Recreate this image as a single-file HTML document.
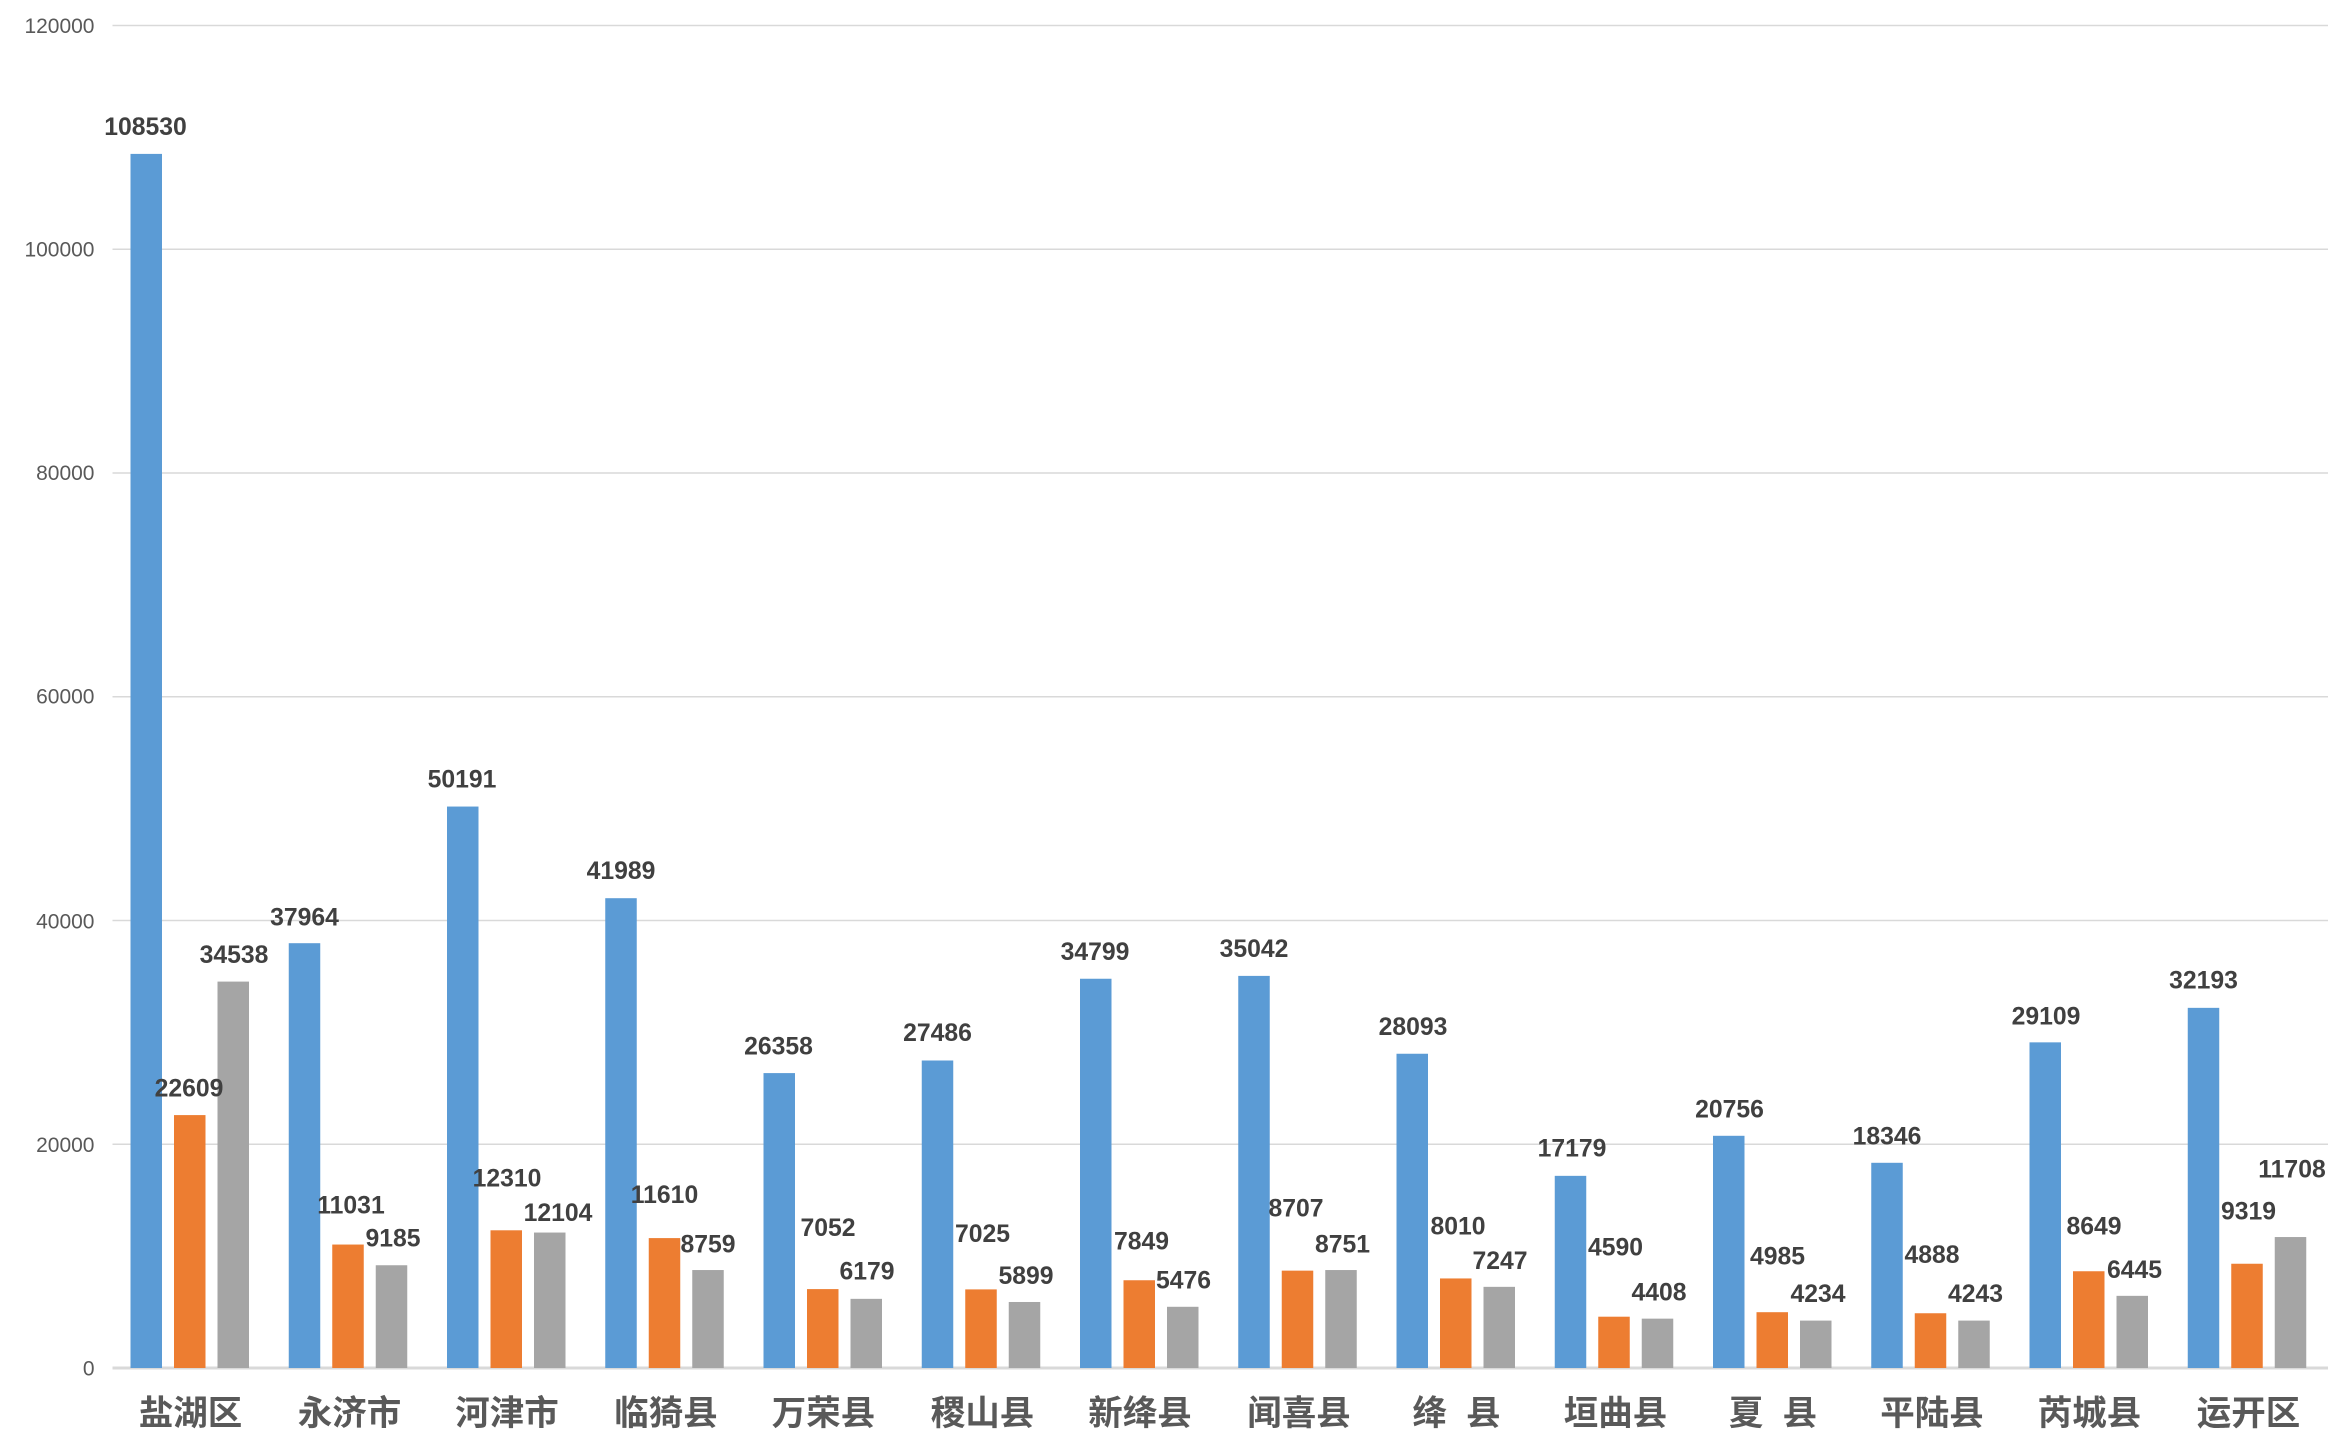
<!DOCTYPE html>
<html><head><meta charset="utf-8"><style>
html,body{margin:0;padding:0;background:#fff;}
svg{display:block;}
.y{font-family:"Liberation Sans",sans-serif;font-size:14px;fill:#595959;text-anchor:end;}
.d{font-family:"Liberation Sans",sans-serif;font-size:16.5px;font-weight:bold;fill:#404040;text-anchor:middle;}
.c{font-family:"Liberation Sans","Noto Sans CJK SC",sans-serif;font-size:23px;font-weight:bold;fill:#595959;text-anchor:middle;}
</style></head><body>
<svg width="2340" height="1453" viewBox="0 0 1560 968.67" preserveAspectRatio="none" xmlns="http://www.w3.org/2000/svg">
<g stroke="#D9D9D9" stroke-width="1">
<line x1="75" x2="1552" y1="17" y2="17"/>
<line x1="75" x2="1552" y1="166.2" y2="166.2"/>
<line x1="75" x2="1552" y1="315.3" y2="315.3"/>
<line x1="75" x2="1552" y1="464.5" y2="464.5"/>
<line x1="75" x2="1552" y1="613.7" y2="613.7"/>
<line x1="75" x2="1552" y1="762.8" y2="762.8"/>
</g>
<line x1="75" x2="1552" y1="912" y2="912" stroke="#D9D9D9" stroke-width="2"/>
<g class="y">
<text x="63" y="22">120000</text>
<text x="63" y="171">100000</text>
<text x="63" y="320">80000</text>
<text x="63" y="469">60000</text>
<text x="63" y="619">40000</text>
<text x="63" y="768">20000</text>
<text x="63" y="917">0</text>
</g>
<g fill="#5B9BD5">
<rect x="87" y="102.6" width="21" height="809.4"/>
<rect x="192.5" y="628.8" width="21" height="283.2"/>
<rect x="298" y="537.7" width="21" height="374.3"/>
<rect x="403.5" y="598.8" width="21" height="313.2"/>
<rect x="509" y="715.4" width="21" height="196.6"/>
<rect x="614.5" y="707" width="21" height="205"/>
<rect x="720" y="652.5" width="21" height="259.5"/>
<rect x="825.5" y="650.6" width="21" height="261.4"/>
<rect x="931" y="702.5" width="21" height="209.5"/>
<rect x="1036.5" y="783.9" width="21" height="128.1"/>
<rect x="1142" y="757.2" width="21" height="154.8"/>
<rect x="1247.5" y="775.2" width="21" height="136.8"/>
<rect x="1353" y="694.9" width="21" height="217.1"/>
<rect x="1458.5" y="671.9" width="21" height="240.1"/>
</g>
<g fill="#ED7D31">
<rect x="116" y="743.4" width="21" height="168.6"/>
<rect x="221.5" y="829.7" width="21" height="82.3"/>
<rect x="327" y="820.2" width="21" height="91.8"/>
<rect x="432.5" y="825.4" width="21" height="86.6"/>
<rect x="538" y="859.4" width="21" height="52.6"/>
<rect x="643.5" y="859.6" width="21" height="52.4"/>
<rect x="749" y="853.5" width="21" height="58.5"/>
<rect x="854.5" y="847.1" width="21" height="64.9"/>
<rect x="960" y="852.3" width="21" height="59.7"/>
<rect x="1065.5" y="877.8" width="21" height="34.2"/>
<rect x="1171" y="874.8" width="21" height="37.2"/>
<rect x="1276.5" y="875.5" width="21" height="36.5"/>
<rect x="1382" y="847.5" width="21" height="64.5"/>
<rect x="1487.5" y="842.5" width="21" height="69.5"/>
</g>
<g fill="#A5A5A5">
<rect x="145" y="654.4" width="21" height="257.6"/>
<rect x="250.5" y="843.5" width="21" height="68.5"/>
<rect x="356" y="821.7" width="21" height="90.3"/>
<rect x="461.5" y="846.7" width="21" height="65.3"/>
<rect x="567" y="865.9" width="21" height="46.1"/>
<rect x="672.5" y="868" width="21" height="44"/>
<rect x="778" y="871.2" width="21" height="40.8"/>
<rect x="883.5" y="846.7" width="21" height="65.3"/>
<rect x="989" y="857.9" width="21" height="54.1"/>
<rect x="1094.5" y="879.1" width="21" height="32.9"/>
<rect x="1200" y="880.4" width="21" height="31.6"/>
<rect x="1305.5" y="880.4" width="21" height="31.6"/>
<rect x="1411" y="863.9" width="21" height="48.1"/>
<rect x="1516.5" y="824.7" width="21" height="87.3"/>
</g>
<g class="d">
<text x="97" y="90">108530</text>
<text x="203" y="617">37964</text>
<text x="308" y="525">50191</text>
<text x="414" y="586">41989</text>
<text x="519" y="703">26358</text>
<text x="625" y="694">27486</text>
<text x="730" y="640">34799</text>
<text x="836" y="638">35042</text>
<text x="942" y="690">28093</text>
<text x="1048" y="771">17179</text>
<text x="1153" y="745">20756</text>
<text x="1258" y="763">18346</text>
<text x="1364" y="683">29109</text>
<text x="1469" y="659">32193</text>
<text x="126" y="731">22609</text><text x="156" y="642">34538</text>
<text x="234" y="809">11031</text><text x="262" y="831">9185</text>
<text x="338" y="791">12310</text><text x="372" y="814">12104</text>
<text x="443" y="802">11610</text><text x="472" y="835">8759</text>
<text x="552" y="824">7052</text><text x="578" y="853">6179</text>
<text x="655" y="828">7025</text><text x="684" y="856">5899</text>
<text x="761" y="833">7849</text><text x="789" y="859">5476</text>
<text x="864" y="811">8707</text><text x="895" y="835">8751</text>
<text x="972" y="823">8010</text><text x="1000" y="846">7247</text>
<text x="1077" y="837">4590</text><text x="1106" y="867">4408</text>
<text x="1185" y="843">4985</text><text x="1212" y="868">4234</text>
<text x="1288" y="842">4888</text><text x="1317" y="868">4243</text>
<text x="1396" y="823">8649</text><text x="1423" y="852">6445</text>
<text x="1499" y="813">9319</text><text x="1528" y="785">11708</text>
</g>
<g class="c">
<text x="127" y="950">盐湖区</text>
<text x="233" y="950">永济市</text>
<text x="338" y="950">河津市</text>
<text x="444" y="950">临猗县</text>
<text x="549" y="950">万荣县</text>
<text x="655" y="950">稷山县</text>
<text x="760" y="950">新绛县</text>
<text x="866" y="950">闻喜县</text>
<text x="971" y="950" xml:space="preserve">绛  县</text>
<text x="1077" y="950">垣曲县</text>
<text x="1182" y="950" xml:space="preserve">夏  县</text>
<text x="1288" y="950">平陆县</text>
<text x="1393" y="950">芮城县</text>
<text x="1499" y="950">运开区</text>
</g>
</svg>
</body></html>
